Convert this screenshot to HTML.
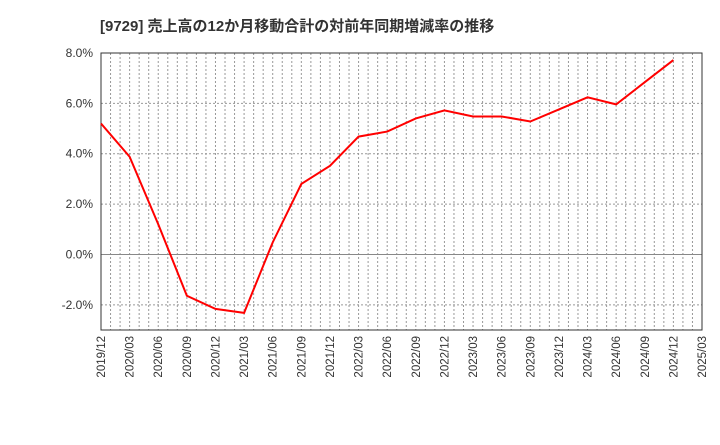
<!DOCTYPE html>
<html><head><meta charset="utf-8"><style>
body{margin:0;background:#fff;font-family:"Liberation Sans","Noto Sans CJK JP",sans-serif;}
</style></head><body>
<svg id="c" width="720" height="440" xmlns="http://www.w3.org/2000/svg">
<text x="100" y="31" font-size="15" font-weight="bold" fill="#333" font-family="Liberation Sans, Noto Sans CJK JP, sans-serif">[9729]  売上高の12か月移動合計の対前年同期増減率の推移</text>
<g id="grid"></g><g id="axes"></g><g id="series"></g>
</svg>
<script>
const categories=["2019/12","2020/03","2020/06","2020/09","2020/12","2021/03","2021/06","2021/09","2021/12","2022/03","2022/06","2022/09","2022/12","2023/03","2023/06","2023/09","2023/12","2024/03","2024/06","2024/09","2024/12","2025/03"];
const values=[5.2,3.88,1.2,-1.64,-2.16,-2.32,0.48,2.8,3.52,4.68,4.88,5.4,5.72,5.48,5.48,5.28,5.76,6.24,5.96,6.84,7.72];
const yTicks=[-2,0,2,4,6,8];
const L=101,R=702,T=53,B=330,yMin=-3,yMax=8;
const ns="http://www.w3.org/2000/svg";
const xs=i=>L+(R-L)*i/(categories.length-1);
const ys=v=>B-(v-yMin)/(yMax-yMin)*(B-T);
function mk(p,t,a){const e=document.createElementNS(ns,t);for(const k in a)e.setAttribute(k,a[k]);p.appendChild(e);return e;}
const g=document.getElementById('grid'),ax=document.getElementById('axes'),s=document.getElementById('series');
const months=(categories.length-1)*3;
for(let m=1;m<months;m++){const x=L+(R-L)*m/months;
const ln=mk(g,'line',{x1:x,x2:x,y1:T,y2:B,stroke:'#999','stroke-dasharray':'2,2','stroke-width':1});

}
yTicks.forEach(v=>{const y=ys(v);
const ln=mk(g,'line',{x1:L,x2:R,y1:y,y2:y,stroke:v===0?'#888':'#999','stroke-dasharray':v===0?'':'2,2','stroke-width':1});


const t=mk(ax,'text',{x:L-8,y:y+4,'text-anchor':'end','font-size':12,fill:'#333'});t.textContent=v.toFixed(1)+'%';

});
const fr=mk(ax,'rect',{x:L,y:T,width:R-L,height:B-T,fill:'none',stroke:'#333','stroke-width':1});


categories.forEach((c,i)=>{const x=xs(i);
const t=mk(ax,'text',{transform:`translate(${x+4},${B+6}) rotate(-90)`,'text-anchor':'end','font-size':11.5,fill:'#333'});t.textContent=c;

});
const pl=mk(s,'polyline',{points:values.map((v,i)=>xs(i)+','+ys(v)).join(' '),fill:'none',stroke:'#f00','stroke-width':2});


</script>
</body></html>
